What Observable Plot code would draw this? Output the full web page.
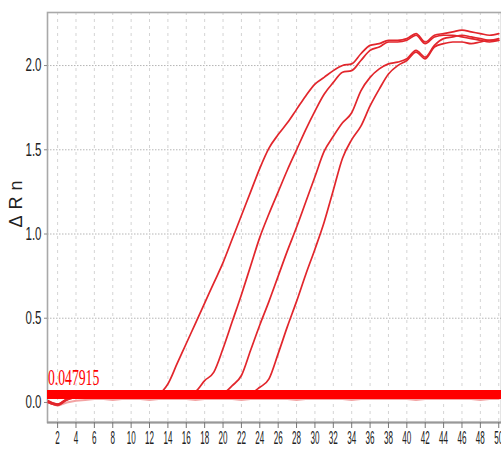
<!DOCTYPE html>
<html>
<head>
<meta charset="utf-8">
<script src="https://cdn.jsdelivr.net/npm/d3@7"></script>
<script src="https://cdn.jsdelivr.net/npm/@observablehq/plot@0.6"></script>
<style>
  html, body { margin: 0; padding: 0; background: #fff; overflow: hidden; }
</style>
</head>
<body>
<div id="chart"></div>
<script>
const cycles = [1,2,3,4,5,6,7,8,9,10,11,12,13,14,15,16,17,18,19,20,21,22,23,24,25,26,27,28,29,30,31,32,33,34,35,36,37,38,39,40,41,42,43,44,45,46,47,48,49,50];

const sampleA = [0.01,-0.01,0.02,0.035,0.045,0.05,0.05,0.05,0.045,0.05,0.05,0.05,0.055,
  0.11,0.23,0.35,0.47,0.59,0.71,0.83,0.97,1.11,1.25,
  1.39,1.51,1.59,1.66,1.74,1.82,1.89,1.93,1.97,2.00,
  2.01,2.07,2.12,2.13,2.15,2.15,2.16,2.19,2.14,2.18,
  2.19,2.20,2.21,2.20,2.19,2.18,2.19];
const sampleB = [0.00,-0.015,0.015,0.03,0.04,0.045,0.05,0.05,0.05,0.05,0.045,0.05,0.05,0.05,0.05,0.05,
  0.065,0.13,0.18,0.32,0.48,0.64,0.81,0.98,1.12,1.25,
  1.38,1.50,1.62,1.73,1.83,1.90,1.96,1.97,2.03,2.09,
  2.11,2.14,2.14,2.15,2.18,2.13,2.17,2.18,2.18,2.17,
  2.16,2.15,2.14,2.15];
const sampleC = [0.005,-0.01,0.02,0.03,0.04,0.045,0.05,0.05,0.05,0.045,0.05,0.05,0.05,0.05,0.045,0.05,0.05,0.05,0.05,0.055,
  0.10,0.16,0.31,0.46,0.60,0.75,0.90,1.04,1.19,1.34,
  1.49,1.58,1.66,1.72,1.85,1.93,1.98,2.01,2.02,2.04,
  2.09,2.05,2.12,2.16,2.17,2.18,2.17,2.16,2.15,2.16];
const sampleD = [0.0,-0.015,0.015,0.03,0.04,0.045,0.05,0.05,0.05,0.05,0.05,0.045,0.05,0.05,0.05,0.05,0.05,0.05,0.045,0.05,0.05,0.05,0.055,
  0.09,0.14,0.29,0.45,0.60,0.76,0.91,1.07,1.26,1.45,
  1.56,1.64,1.76,1.86,1.95,2.00,2.03,2.08,2.04,2.11,
  2.13,2.14,2.14,2.13,2.14,2.15,2.15];
const ntc = [0.0,-0.02,0.0,0.01,0.015,0.02,0.02,0.015,0.02,0.02,0.02,0.015,0.02,0.02,0.02,0.02,0.015,0.02,0.02,0.02,0.02,0.015,0.02,0.02,0.02,0.02,0.02,0.015,0.02,0.02,0.02,0.02,0.02,0.015,0.02,0.02,0.02,0.02,0.02,0.02,0.015,0.02,0.02,0.02,0.02,0.02,0.02,0.015,0.02,0.02];

const threshold = 0.047915;
const thresholdLabel = "0.047915";
const xTicks = [2,4,6,8,10,12,14,16,18,20,22,24,26,28,30,32,34,36,38,40,42,44,46,48,50];
const yTicks = [0.0,0.5,1.0,1.5,2.0];
const yLabel = "ΔRn";

const samples = {A: sampleA, B: sampleB, C: sampleC, D: sampleD};
const rows = [];
for (const [name, vals] of Object.entries(samples)) {
  vals.forEach((v, i) => rows.push({sample: name, cycle: cycles[i], rn: v}));
}
const ntcRows = ntc.map((v, i) => ({sample: "NTC", cycle: cycles[i], rn: v}));

const chart = Plot.plot({
  width: 501,
  height: 457,
  marginLeft: 47,
  marginRight: 0,
  marginTop: 12,
  marginBottom: 35,
  style: {background: "#fff", fontFamily: "Liberation Sans, Arial, sans-serif", color: "#222"},
  x: {domain: [0.9, 50.3]},
  y: {domain: [-0.119, 2.315]},
  marks: [
    Plot.gridX(xTicks, {stroke: "#d4d4d4", strokeOpacity: 1, strokeDasharray: "3,4"}),
    Plot.gridY(yTicks.filter(d => d > 0), {stroke: "#b5b5b5", strokeOpacity: 1, strokeDasharray: "1.5,1.5"}),
    Plot.frame({stroke: "#a9a9a9", strokeWidth: 1.6}),
    Plot.ruleY([-0.119], {stroke: "#999", strokeWidth: 2.2}),
    Plot.axisX(xTicks, {tickSize: 6, tickPadding: 3, fontSize: 18, stroke: "#777", fill: "#222", label: null, tickFormat: d => String(d)}),
    Plot.axisY(yTicks, {tickSize: 3, tickPadding: 3, fontSize: 18, stroke: "#888", fill: "#222", label: null, tickFormat: d3.format(".1f")}),
    Plot.line(ntcRows, {x: "cycle", y: "rn", z: "sample", stroke: "#f3a3a3", strokeWidth: 2}),
    Plot.line(rows, {x: "cycle", y: "rn", z: "sample", stroke: "#e2262c", strokeWidth: 1.7, curve: "monotone-x"}),
    Plot.ruleY([threshold], {stroke: "#ff0000", strokeWidth: 9}),
    Plot.text([thresholdLabel], {x: () => 0.95, y: () => threshold, text: d => d, dy: -17, textAnchor: "start", fill: "#ff0000", fontFamily: "Liberation Serif, Times New Roman, serif", fontSize: 24}),
    Plot.text([yLabel], {frameAnchor: "left", text: d => d, rotate: -90, dx: -31, dy: 10, fontSize: 18, fill: "#222"})
  ]
});

const svg = d3.select(chart);
function squeeze(sel, sx) {
  sel.each(function() {
    const tr = this.getAttribute("transform") || "";
    this.setAttribute("transform", (tr + " scale(" + sx + ",1)").trim());
  });
}
squeeze(svg.selectAll('g[aria-label="x-axis tick label"] text'), 0.45);
squeeze(svg.selectAll('g[aria-label="y-axis tick label"] text'), 0.64);
svg.selectAll('g[aria-label="text"] text').each(function() {
  if (this.textContent === thresholdLabel) {
    squeeze(d3.select(this), 0.57);
  } else if (this.textContent === yLabel) {
    d3.select(this).attr("letter-spacing", "6px");
  }
});

document.getElementById("chart").appendChild(chart);
</script>
</body>
</html>
